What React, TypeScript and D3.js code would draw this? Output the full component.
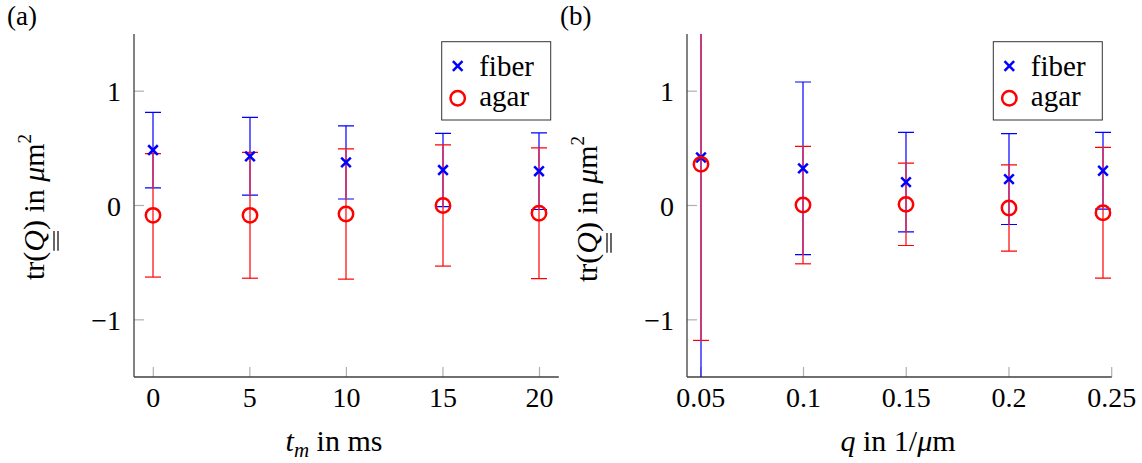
import React, { useLayoutEffect, useRef, useState } from "react";
import * as d3 from "d3";

// ---- data ----
const tmValues = [0, 5, 10, 15, 20];
const tmTicks = [0, 5, 10, 15, 20];
const tmTickLabels = ["0", "5", "10", "15", "20"];
const fiberA = [0.485, 0.43, 0.377, 0.31, 0.3];
const fiberAErr = [0.33, 0.34, 0.32, 0.32, 0.335];
const agarA = [-0.086, -0.086, -0.074, 0.0, -0.068];
const agarAErr = [0.54, 0.55, 0.57, 0.53, 0.572];

const qValues = [0.05, 0.1, 0.15, 0.2, 0.246];
const qTicks = [0.05, 0.1, 0.15, 0.2, 0.25];
const qTickLabels = ["0.05", "0.1", "0.15", "0.2", "0.25"];
const fiberB = [0.42, 0.325, 0.205, 0.231, 0.304];
const fiberBErr = [2.2, 0.755, 0.435, 0.397, 0.336];
const agarB = [0.36, 0.004, 0.01, -0.022, -0.063];
const agarBErr = [1.54, 0.514, 0.36, 0.377, 0.572];

const yTicks = [-1, 0, 1];
const yTickLabels = ["\u22121", "0", "1"];
const legendLabels = ["fiber", "agar"];

const FONT = "'Liberation Serif', 'Times New Roman', serif";
const BLUE = "#0000ff";
const RED = "#ff0000";
const MIX = "#c8428c";
const AXIS = "#404040";
const TICK = "#b0b0b0";

const yScale = d3.scaleLinear().domain([-1.5, 1.5]).range([377, 34]);

function Cross({ x, y }: { x: number; y: number }) {
  const s = 4.8;
  return (
    <g stroke={BLUE} strokeWidth={2.5}>
      <line x1={x - s} y1={y - s} x2={x + s} y2={y + s} />
      <line x1={x - s} y1={y + s} x2={x + s} y2={y - s} />
    </g>
  );
}

function Circ({ x, y }: { x: number; y: number }) {
  return <circle cx={x} cy={y} r={7.2} fill="none" stroke={RED} strokeWidth={2.5} />;
}

function YLabel({ cx, cy }: { cx: number; cy: number }) {
  const ref = useRef<SVGTextElement>(null);
  const [ext, setExt] = useState<{ x: number; w: number } | null>(null);
  useLayoutEffect(() => {
    if (ref.current) {
      const e = ref.current.getExtentOfChar(3);
      setExt({ x: e.x, w: e.width });
    }
  }, []);
  return (
    <g transform={`translate(${cx},${cy}) rotate(-90)`}>
      <text ref={ref} x={0} y={0} textAnchor="middle" fontSize={30} fontFamily={FONT}>
        <tspan>tr(</tspan>
        <tspan fontStyle="italic">Q</tspan>
        <tspan>) in </tspan>
        <tspan fontStyle="italic">μ</tspan>
        <tspan>m</tspan>
        <tspan fontSize={19} dy={-13}>2</tspan>
      </text>
      {ext && (
        <g stroke="#000" strokeWidth={1.2}>
          <line x1={ext.x + 1} x2={ext.x + ext.w - 1} y1={10} y2={10} />
          <line x1={ext.x + 1} x2={ext.x + ext.w - 1} y1={14} y2={14} />
        </g>
      )}
    </g>
  );
}

type PanelProps = {
  id: string;
  x: d3.ScaleLinear<number, number>;
  xs: number[];
  fiber: number[];
  fiberErr: number[];
  agar: number[];
  agarErr: number[];
  xTicks: number[];
  xTickLabels: string[];
  legendX: number;
};

function Panel(p: PanelProps) {
  const [x0, x1] = p.x.range();
  const [yb, yt] = yScale.range();
  const clipId = `clip-${p.id}`;
  const cap = 8;
  const px = (v: number) => Math.round(p.x(v));
  const errBars = (vals: number[], errs: number[], color: string) =>
    p.xs.map((xv, i) => {
      const cx = px(xv);
      const lo = yScale(vals[i] - errs[i]);
      const hi = yScale(vals[i] + errs[i]);
      return (
        <g key={i} stroke={color} strokeWidth={1.2}>
          <line x1={cx} x2={cx} y1={lo} y2={hi} />
          <line x1={cx - cap} x2={cx + cap} y1={lo} y2={lo} />
          <line x1={cx - cap} x2={cx + cap} y1={hi} y2={hi} />
        </g>
      );
    });
  // overlapping part of the two error intervals
  const overlaps = p.xs.map((xv, i) => {
    const lo = Math.max(p.fiber[i] - p.fiberErr[i], p.agar[i] - p.agarErr[i]);
    const hi = Math.min(p.fiber[i] + p.fiberErr[i], p.agar[i] + p.agarErr[i]);
    if (hi <= lo) return null;
    const cx = px(xv);
    return <line key={"o" + i} x1={cx} x2={cx} y1={yScale(lo)} y2={yScale(hi)} stroke={MIX} strokeWidth={1.4} />;
  });
  const lx = p.legendX;
  return (
    <g>
      <defs>
        <clipPath id={clipId}>
          <rect x={x0} y={yt} width={x1 - x0} height={yb - yt} />
        </clipPath>
      </defs>
      {/* ticks */}
      {yTicks.map((t) => (
        <line key={"yt" + t} x1={x0} x2={x0 + 10} y1={yScale(t)} y2={yScale(t)} stroke={TICK} strokeWidth={1.2} />
      ))}
      {p.xTicks.map((t) => (
        <line key={"xt" + t} x1={p.x(t)} x2={p.x(t)} y1={yb} y2={yb - 10} stroke={TICK} strokeWidth={1.2} />
      ))}
      {/* axes */}
      <line x1={x0} x2={x0} y1={yt} y2={yb} stroke={AXIS} strokeWidth={1.3} />
      <line x1={x0} x2={x1} y1={yb} y2={yb} stroke={AXIS} strokeWidth={1.3} />
      {/* tick labels */}
      {yTicks.map((t, i) => (
        <text key={"yl" + t} x={x0 - 13} y={yScale(t) + 10} textAnchor="end" fontSize={28} fontFamily={FONT}>
          {yTickLabels[i]}
        </text>
      ))}
      {p.xTicks.map((t, i) => (
        <text key={"xl" + t} x={p.x(t)} y={407} textAnchor="middle" fontSize={28} fontFamily={FONT}>
          {p.xTickLabels[i]}
        </text>
      ))}
      {/* data */}
      <g clipPath={`url(#${clipId})`}>
        {errBars(p.fiber, p.fiberErr, BLUE)}
        {errBars(p.agar, p.agarErr, RED)}
        {overlaps}
        {p.xs.map((xv, i) => (
          <Cross key={"f" + i} x={px(xv)} y={yScale(p.fiber[i])} />
        ))}
        {p.xs.map((xv, i) => (
          <Circ key={"a" + i} x={px(xv)} y={yScale(p.agar[i])} />
        ))}
      </g>
      {/* legend */}
      <rect x={lx} y={41.7} width={109} height={78.3} fill="#fff" stroke="#333" strokeWidth={1} />
      <Cross x={lx + 16} y={66} />
      <Circ x={lx + 16} y={98.3} />
      <text x={lx + 37.5} y={75.5} fontSize={29} fontFamily={FONT}>
        {legendLabels[0]}
      </text>
      <text x={lx + 37.5} y={105.5} fontSize={29} fontFamily={FONT}>
        {legendLabels[1]}
      </text>
    </g>
  );
}

export default function App() {
  const xA = d3.scaleLinear().domain([-1, 21]).range([134, 558.8]);
  const xB = d3.scaleLinear().domain([0.0433, 0.25]).range([687, 1111.7]);
  return (
    <svg width={1142} height={463} style={{ position: "absolute", left: 0, top: 0, background: "#fff" }}>
      <rect width={1142} height={463} fill="#fff" />
      <text x={7} y={25} fontSize={27} fontFamily={FONT}>(a)</text>
      <text x={560} y={25} fontSize={27} fontFamily={FONT}>(b)</text>
      <Panel
        id="a"
        x={xA}
        xs={tmValues}
        fiber={fiberA}
        fiberErr={fiberAErr}
        agar={agarA}
        agarErr={agarAErr}
        xTicks={tmTicks}
        xTickLabels={tmTickLabels}
        legendX={441.7}
      />
      <Panel
        id="b"
        x={xB}
        xs={qValues}
        fiber={fiberB}
        fiberErr={fiberBErr}
        agar={agarB}
        agarErr={agarBErr}
        xTicks={qTicks}
        xTickLabels={qTickLabels}
        legendX={993.3}
      />
      <YLabel cx={44} cy={207} />
      <YLabel cx={597} cy={209} />
      <text x={334} y={451} textAnchor="middle" fontSize={30} fontFamily={FONT}>
        <tspan fontStyle="italic">t</tspan>
        <tspan fontStyle="italic" fontSize={21} dy={6}>m</tspan>
        <tspan dy={-6}> in ms</tspan>
      </text>
      <text x={898} y={451} textAnchor="middle" fontSize={30} fontFamily={FONT}>
        <tspan fontStyle="italic">q</tspan>
        <tspan> in 1/</tspan>
        <tspan fontStyle="italic">μ</tspan>
        <tspan>m</tspan>
      </text>
    </svg>
  );
}
